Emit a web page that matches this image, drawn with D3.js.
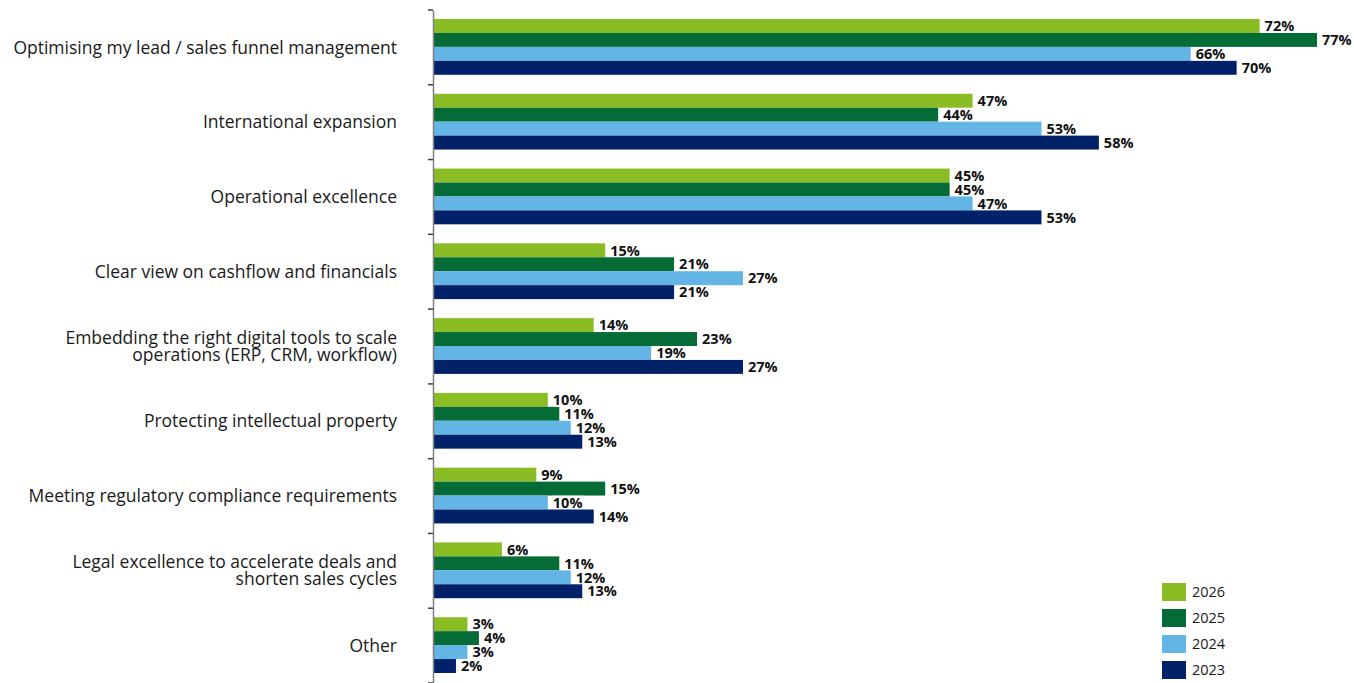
<!DOCTYPE html>
<html>
<head>
<meta charset="utf-8">
<script src="https://cdn.jsdelivr.net/npm/d3@7"></script>
<style>
  html, body { margin: 0; padding: 0; background: #fff; }
  svg { display: block; }
</style>
</head>
<body>
<svg id="chart" width="1354" height="683"></svg>
<script>
// Survey priorities by year (share of respondents, %)
const categories = [
  ["Optimising my lead / sales funnel management"],
  ["International expansion"],
  ["Operational excellence"],
  ["Clear view on cashflow and financials"],
  ["Embedding the right digital tools to scale", "operations (ERP, CRM, workflow)"],
  ["Protecting intellectual property"],
  ["Meeting regulatory compliance requirements"],
  ["Legal excellence to accelerate deals and", "shorten sales cycles"],
  ["Other"]
];
const seriesNames = ["2026", "2025", "2024", "2023"];
const values2026 = [72, 47, 45, 15, 14, 10, 9, 6, 3];
const values2025 = [77, 44, 45, 21, 23, 11, 15, 11, 4];
const values2024 = [66, 53, 47, 27, 19, 12, 10, 12, 3];
const values2023 = [70, 58, 53, 21, 27, 13, 14, 13, 2];
const seriesColors = ["#8abd24", "#056b37", "#62b5e5", "#012169"];

const seriesValues = [values2026, values2025, values2024, values2023];

const svg = d3.select("#chart");
const plotLeft = 433, plotTop = 10, plotBottom = 683;

const y = d3.scaleBand()
  .domain(d3.range(categories.length))
  .range([plotTop, plotBottom])
  .paddingInner(0)
  .paddingOuter(0);

const inner = d3.scaleBand()
  .domain(seriesNames)
  .range([9, y.bandwidth() - 10])
  .padding(0);

const x = d3.scaleLinear().domain([0, 77]).range([plotLeft, 1317]);

// bars
const groups = svg.append("g").selectAll("g")
  .data(categories)
  .join("g")
  .attr("transform", (d, i) => `translate(0,${y(i)})`);

seriesNames.forEach((name, s) => {
  groups.append("rect")
    .attr("x", plotLeft)
    .attr("y", inner(name))
    .attr("width", (d, i) => x(seriesValues[s][i]) - plotLeft)
    .attr("height", inner.bandwidth())
    .attr("fill", seriesColors[s]);
});

// value labels with white backing
seriesNames.forEach((name, s) => {
  const lbl = groups.append("g")
    .attr("transform", (d, i) => `translate(${x(seriesValues[s][i]) + 5},${inner(name) + inner.bandwidth() / 2})`);
  lbl.append("text")
    .attr("dy", "0.36em")
    .attr("font-family", "'Open Sans', sans-serif")
    .attr("font-weight", "bold")
    .attr("font-size", 14.5)
    .attr("fill", "#111")
    .text((d, i) => seriesValues[s][i] + "%");
  lbl.each(function () {
    const bb = this.querySelector("text").getBBox();
    d3.select(this).insert("rect", "text")
      .attr("x", bb.x - 1).attr("y", bb.y + 3)
      .attr("width", bb.width + 2).attr("height", bb.height - 6)
      .attr("fill", "#fff");
  });
});

// category axis
const axis = d3.axisLeft(y)
  .tickSize(0)
  .tickFormat("");
const axG = svg.append("g").attr("transform", `translate(${plotLeft},0)`).call(axis);
axG.select(".domain").attr("stroke", "#808080").attr("stroke-width", 1.5);

// tick marks on band boundaries
svg.append("g").selectAll("line")
  .data(d3.range(categories.length + 1))
  .join("line")
  .attr("x1", plotLeft - 5).attr("x2", plotLeft)
  .attr("y1", i => plotTop + i * y.step())
  .attr("y2", i => plotTop + i * y.step())
  .attr("stroke", "#404040")
  .attr("stroke-width", 1.5);

// category labels
const catLabels = svg.append("g").selectAll("text")
  .data(categories)
  .join("text")
  .attr("x", 397)
  .attr("y", (d, i) => y(i) + y.bandwidth() / 2)
  .attr("text-anchor", "end")
  .attr("font-family", "'Open Sans', sans-serif")
  .attr("font-size", 17.5)
  .attr("fill", "#1a1a1a");
catLabels.each(function (lines) {
  const t = d3.select(this);
  const lh = 17;
  const start = -(lines.length - 1) * lh / 2;
  lines.forEach((line, k) => {
    t.append("tspan")
      .attr("x", 397)
      .attr("dy", k === 0 ? (start + 0.35 * 17.5) + "px" : lh + "px")
      .text(line);
  });
});

// legend
const legend = svg.append("g").attr("transform", "translate(1162,583)");
seriesNames.forEach((name, s) => {
  const row = legend.append("g").attr("transform", `translate(0,${s * 26})`);
  row.append("rect").attr("width", 24).attr("height", 18).attr("fill", seriesColors[s]);
  row.append("text")
    .attr("x", 30).attr("y", 9).attr("dy", "0.35em")
    .attr("font-family", "'Open Sans', sans-serif")
    .attr("font-size", 14.5)
    .attr("fill", "#1a1a1a")
    .text(name);
});
</script>
</body>
</html>
